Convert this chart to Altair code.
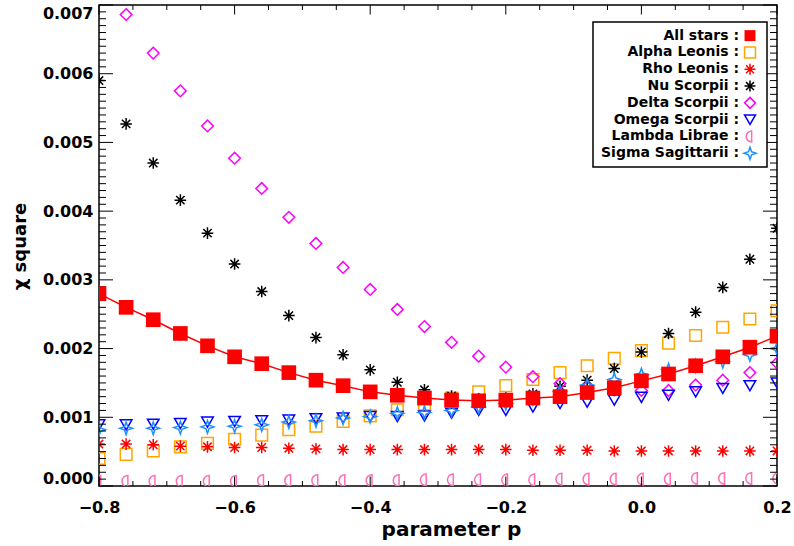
import altair as alt
import numpy as np
import pandas as pd

# ---------------- data (chi-square values, units of 1e-3) ----------------
p = [-0.80, -0.76, -0.72, -0.68, -0.64, -0.60, -0.56, -0.52, -0.48, -0.44,
     -0.40, -0.36, -0.32, -0.28, -0.24, -0.20, -0.16, -0.12, -0.08, -0.04,
     0.00, 0.04, 0.08, 0.12, 0.16, 0.20]

all_stars = [2.80, 2.60, 2.42, 2.22, 2.04, 1.88, 1.78, 1.65, 1.54, 1.46, 1.37, 1.32, 1.28,
             1.25, 1.24, 1.25, 1.28, 1.30, 1.36, 1.43, 1.53, 1.63, 1.75, 1.88, 2.02, 2.18]
alpha_leonis = [0.40, 0.46, 0.51, 0.57, 0.62, 0.68, 0.74, 0.82, 0.87, 0.94, 1.02, 1.11, 1.19,
                1.28, 1.37, 1.46, 1.55, 1.65, 1.75, 1.86, 1.97, 2.08, 2.19, 2.31, 2.43, 2.55]
rho_leonis = [0.61, 0.61, 0.60, 0.58, 0.57, 0.56, 0.56, 0.55, 0.54, 0.53, 0.53, 0.53, 0.53,
              0.53, 0.53, 0.53, 0.52, 0.52, 0.52, 0.51, 0.51, 0.51, 0.51, 0.51, 0.51, 0.51]
nu_scorpii = [5.90, 5.27, 4.70, 4.16, 3.68, 3.23, 2.83, 2.48, 2.16, 1.91, 1.69, 1.51, 1.40,
              1.31, 1.27, 1.28, 1.34, 1.45, 1.54, 1.71, 1.95, 2.22, 2.53, 2.89, 3.30, 3.75]
delta_scorpii = [None, 6.86, 6.30, 5.75, 5.24, 4.77, 4.33, 3.91, 3.53, 3.18, 2.86, 2.57, 2.32,
                 2.09, 1.89, 1.73, 1.59, 1.49, 1.44, 1.40, 1.39, 1.39, 1.47, 1.54, 1.65, 1.79]
omega_scorpii = [0.89, 0.89, 0.90, 0.91, 0.93, 0.94, 0.95, 0.96, 0.98, 0.99, 1.01, 1.01, 1.02,
                 1.06, 1.10, 1.10, 1.15, 1.20, 1.22, 1.25, 1.29, 1.32, 1.37, 1.42, 1.46, 1.50]
lambda_librae = [0.07, 0.07, 0.07, 0.07, 0.07, 0.07, 0.08, 0.08, 0.08, 0.08, 0.08, 0.08, 0.09,
                 0.09, 0.09, 0.09, 0.09, 0.10, 0.10, 0.10, 0.10, 0.10, 0.11, 0.11, 0.11, 0.11]
sigma_sagittarii = [0.82, 0.84, 0.84, 0.85, 0.86, 0.87, 0.89, 0.93, 0.95, 0.99, 1.01, 1.06, 1.07,
                    1.10, 1.15, 1.20, 1.27, 1.38, 1.47, 1.55, 1.62, 1.69, 1.75, 1.81, 1.91, 2.00]

names = ["All stars", "Alpha Leonis", "Rho Leonis", "Nu Scorpii", "Delta Scorpii",
         "Omega Scorpii", "Lambda Librae", "Sigma Sagittarii"]
series_values = [all_stars, alpha_leonis, rho_leonis, nu_scorpii, delta_scorpii,
                 omega_scorpii, lambda_librae, sigma_sagittarii]

x_major = [-0.8, -0.6, -0.4, -0.2, 0.0, 0.2]
y_major = [0.000, 0.001, 0.002, 0.003, 0.004, 0.005, 0.006, 0.007]

# ---------------- styling ----------------
colors = ["#ff0000", "#ffa500", "#ff0000", "#000000", "#ff00ff", "#0000ff", "#ff6eb4", "#1e90ff"]
ASTER = "M0,-1L0,1M-1,0L1,0M-0.72,-0.72L0.72,0.72M-0.72,0.72L0.72,-0.72"
HALF = "M0.3,-1A1.0,1 0 0,0 0.3,1Z"
STAR4 = "M0,-1.1L0.28,-0.28L1.1,0L0.28,0.28L0,1.1L-0.28,0.28L-1.1,0L-0.28,-0.28Z"
shapes = ["square", "square", ASTER, ASTER, "diamond", "triangle-down", HALF, STAR4]
FONT = "DejaVu Sans"
W, H = 678, 481

rows = []
for name, vals in zip(names, series_values):
    for x, v in zip(p, vals):
        if v is not None:
            rows.append({"p": x, "chi2": v * 1e-3, "series": name})
df = pd.DataFrame(rows)
df_all = df[df.series == "All stars"]
df_open = df[df.series != "All stars"]

x_minor = [round(v, 2) for v in np.arange(-0.8, 0.2001, 0.05) if min(abs(v - m) for m in x_major) > 1e-6]
y_minor = [round(v, 4) for v in np.arange(0, 0.00701, 0.0001) if min(abs(v - m) for m in y_major) > 1e-9]

xscale = alt.Scale(domain=[-0.8, 0.2], nice=False, zero=False)
yscale = alt.Scale(domain=[0, 0.007], nice=False, zero=False)
shape_enc = alt.Shape("series:N", scale=alt.Scale(domain=names, range=shapes), legend=None)
color_enc = alt.Color("series:N", scale=alt.Scale(domain=names, range=colors), legend=None)

x_enc = alt.X("p:Q", scale=xscale, axis=alt.Axis(
    values=x_major, format=".1f", ticks=False, tickSize=0, domain=False, grid=False,
    labelFlush=False, labelFont=FONT, labelFontSize=16, labelFontWeight="bold",
    labelColor="black", labelPadding=13,
    title="parameter p", titleFont=FONT, titleFontSize=20, titleFontWeight="bold",
    titleColor="black", titleX=352, titleY=49, titleBaseline="alphabetic", titleAlign="center"))
y_enc = alt.Y("chi2:Q", scale=yscale, axis=alt.Axis(
    values=y_major, format=".3f", ticks=False, tickSize=0, domain=False, grid=False,
    labelFlush=True, labelFont=FONT, labelFontSize=16, labelFontWeight="bold",
    labelColor="black", labelPadding=6,
    title="χ square", titleFont=FONT, titleFontSize=18, titleFontWeight="bold",
    titleColor="black", titleX=-74, titleY=241, titleAngle=270,
    titleBaseline="alphabetic", titleAlign="center"))

# ---------------- tick marks (inward, all four sides) ----------------
def xticks(vals, length):
    d = pd.DataFrame({"p": vals})
    b = alt.Chart(d).mark_rule(color="black", strokeWidth=1).encode(
        x=alt.X("p:Q", scale=xscale), y=alt.value(H), y2=alt.value(H - length))
    t = alt.Chart(d).mark_rule(color="black", strokeWidth=1).encode(
        x=alt.X("p:Q", scale=xscale), y=alt.value(0), y2=alt.value(length))
    return [b, t]

def yticks(vals, length):
    d = pd.DataFrame({"chi2": vals})
    l = alt.Chart(d).mark_rule(color="black", strokeWidth=1).encode(
        y=alt.Y("chi2:Q", scale=yscale), x=alt.value(0), x2=alt.value(length))
    r = alt.Chart(d).mark_rule(color="black", strokeWidth=1).encode(
        y=alt.Y("chi2:Q", scale=yscale), x=alt.value(W), x2=alt.value(W - length))
    return [l, r]

tick_layers = xticks(x_major, 9.5) + xticks(x_minor, 5) + yticks(y_major, 14) + yticks(y_minor, 7)

# ---------------- data marks ----------------
open_pts = alt.Chart(df_open).mark_point(filled=False, strokeWidth=1.5, size=135, opacity=1, clip=True).encode(
    x=x_enc, y=y_enc, shape=shape_enc, color=color_enc)
all_line = alt.Chart(df_all).mark_line(color="#ff0000", strokeWidth=1.5, clip=True).encode(
    x=alt.X("p:Q", scale=xscale), y=alt.Y("chi2:Q", scale=yscale))
all_pts = alt.Chart(df_all).mark_point(shape="square", filled=True, color="#ff0000", size=215,
                                       opacity=1, clip=True).encode(
    x=alt.X("p:Q", scale=xscale), y=alt.Y("chi2:Q", scale=yscale))

main = alt.layer(open_pts, *tick_layers, all_line, all_pts)

# ---------------- legend (box inside the plot) ----------------
leg_df = pd.DataFrame({"series": names, "label": [n + " :" for n in names]})
ly = alt.Y("series:N", scale=alt.Scale(type="point", domain=names, range=[30.6, 148.3], padding=0), axis=None)
box = alt.Chart(pd.DataFrame({"a": [0]})).mark_rect(fill="white", stroke="black", strokeWidth=1.5).encode(
    x=alt.value(494), x2=alt.value(668), y=alt.value(17), y2=alt.value(162))
leg_text = alt.Chart(leg_df).mark_text(align="right", baseline="middle", font=FONT, fontSize=14,
                                       fontWeight="bold", color="black").encode(
    x=alt.value(640), y=ly, text="label:N")
leg_open = alt.Chart(leg_df).transform_filter("datum.series != 'All stars'").mark_point(
    filled=False, strokeWidth=1.5, size=120, opacity=1).encode(
    x=alt.value(651), y=ly, shape=shape_enc, color=color_enc)
leg_all = alt.Chart(leg_df).transform_filter("datum.series == 'All stars'").mark_point(
    shape="square", filled=True, color="#ff0000", size=120, opacity=1).encode(
    x=alt.value(651), y=ly)
legend = alt.layer(box, leg_text, leg_open, leg_all)

chart = alt.layer(main, legend).resolve_scale(y="independent").properties(
    width=W, height=H, autosize="none",
    padding={"left": 99, "top": 5, "right": 17, "bottom": 60},
    background="white",
).configure_view(stroke="black", strokeWidth=1.5)

chart.save("out.html", embed_options={"renderer": "svg", "actions": False})
